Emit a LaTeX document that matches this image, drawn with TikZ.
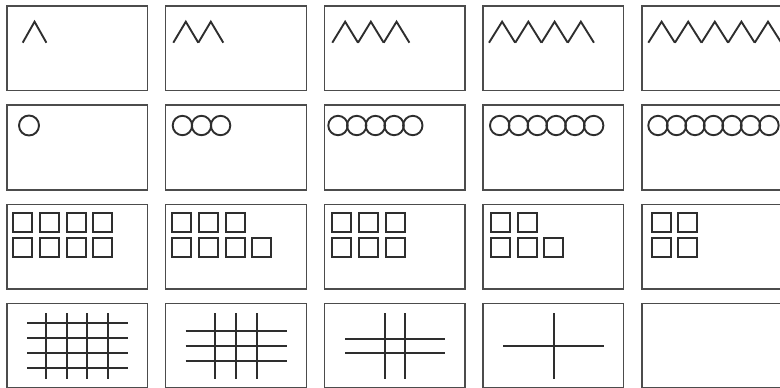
\documentclass[tikz,border=0pt]{standalone}
\tikzset{
  panel/.style={draw=black!70, line width=0.7pt},
  glyph/.style={draw=black!82, line width=0.95pt},
}
\begin{document}
\begin{tikzpicture}[x=0.5pt,y=-0.5pt]
\useasboundingbox (0,0) rectangle (780,387);
\clip (0,0) rectangle (780,387);
\foreach \c in {0,...,4}
  \foreach \r in {0,...,3}
    \draw[panel] ({7+158.7*\c},{6+99.1*\r}) rectangle ++(140.5,84.7);
\draw[glyph] (22.7,42.7) -- ++(11.85,-21) -- ++(11.85,21);
\foreach \i in {0,1} \draw[glyph] ({173.3+25*\i},42.7) -- ++(12.5,-21) -- ++(12.5,21);
\foreach \i in {0,...,2} \draw[glyph] ({332.3+25.7*\i},42.7) -- ++(12.85,-21) -- ++(12.85,21);
\foreach \i in {0,...,3} \draw[glyph] ({489+26.25*\i},42.7) -- ++(13.1,-21) -- ++(13.1,21);
\foreach \i in {0,...,4} \draw[glyph] ({648.3+26.6*\i},42.7) -- ++(13.3,-21) -- ++(13.3,21);
\draw[glyph] (29,125.5) circle (10);
\foreach \i in {0,...,2} \draw[glyph] ({182.4+19.1*\i},125.5) circle (9.7);
\foreach \i in {0,...,4} \draw[glyph] ({338+18.7*\i},125.5) circle (9.7);
\foreach \i in {0,...,5} \draw[glyph] ({499.7+18.8*\i},125.5) circle (9.7);
\foreach \i in {0,...,6} \draw[glyph] ({658+18.5*\i},125.5) circle (9.7);
\foreach \i in {0,...,3} {
  \draw[glyph] ({13.3+26.7*\i},213.3) rectangle ++(19,19);
  \draw[glyph] ({13.3+26.7*\i},237.7) rectangle ++(19,19);
}
\foreach \i in {0,...,2} \draw[glyph] ({172.3+26.7*\i},213.3) rectangle ++(19,19);
\foreach \i in {0,...,3} \draw[glyph] ({172.3+26.7*\i},237.7) rectangle ++(19,19);
\foreach \i in {0,...,2} {
  \draw[glyph] ({332.3+26.7*\i},213.3) rectangle ++(19,19);
  \draw[glyph] ({332.3+26.7*\i},237.7) rectangle ++(19,19);
}
\foreach \i in {0,1} \draw[glyph] ({491+26.7*\i},213.3) rectangle ++(19,19);
\foreach \i in {0,...,2} \draw[glyph] ({491+26.7*\i},237.7) rectangle ++(19,19);
\foreach \i in {0,1} {
  \draw[glyph] ({651.7+26.7*\i},213.3) rectangle ++(19,19);
  \draw[glyph] ({651.7+26.7*\i},237.7) rectangle ++(19,19);
}
\foreach \x in {46,66.7,87.4,108.1} \draw[glyph] (\x,313.3) -- (\x,379);
\foreach \y in {323.3,338.3,353.3,368.3} \draw[glyph] (27.3,\y) -- (127.7,\y);
\foreach \x in {215.3,236,256.7} \draw[glyph] (\x,313.3) -- (\x,379);
\foreach \y in {330.7,345.7,360.7} \draw[glyph] (185.7,\y) -- (286.7,\y);
\foreach \x in {384.7,405.3} \draw[glyph] (\x,313.3) -- (\x,379);
\foreach \y in {338.7,353.3} \draw[glyph] (345,\y) -- (445.3,\y);
\draw[glyph] (554,313.3) -- (554,379);
\draw[glyph] (503.3,345.7) -- (604,345.7);
\end{tikzpicture}
\end{document}
